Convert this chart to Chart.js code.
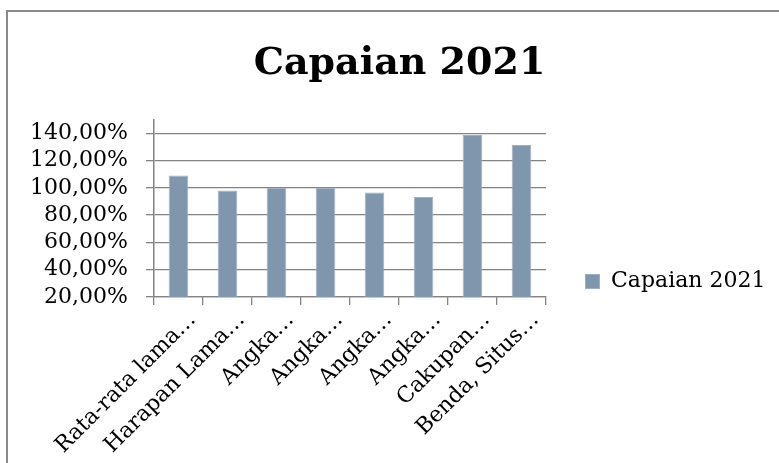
<!DOCTYPE html>
<html>
<head>
<meta charset="utf-8">
<script src="https://cdn.jsdelivr.net/npm/chart.js@4"></script>
<style>
  html, body { margin: 0; padding: 0; background: #fff; overflow: hidden; }
  body { width: 779px; height: 463px; position: relative; }
  #frame { position: absolute; left: 6px; top: 10px; width: 900px; height: 600px;
           border-top: 2px solid #8a8a8a; border-left: 2px solid #8a8a8a; }
  #chart { position: absolute; left: 8px; top: 12px; }
</style>
</head>
<body>
<div id="frame"></div>
<canvas id="chart" width="800" height="539"></canvas>
<script>
// kategori (label terpotong seperti di gambar)
const kategori = [
  'Rata-rata lama…',
  'Harapan Lama…',
  'Angka…',
  'Angka…',
  'Angka…',
  'Angka…',
  'Cakupan…',
  'Benda, Situs…'
];
// capaian dalam persen
const capaian2021 = [109.1, 98.1, 100.0, 100.0, 96.6, 93.2, 138.8, 131.3];
const namaSeri = 'Capaian 2021';
const sumbuMin = 20;
const sumbuMax = 150;
const langkah = 20;

const serif = 'DejaVu Serif';
const abu = '#848484';

function persen(v) {
  return v.toFixed(2).replace('.', ',') + '%';
}

// legenda di kanan, digambar sendiri karena legenda bawaan dibatasi lebarnya
const legendaKanan = {
  id: 'legendaKanan',
  afterDraw(chart) {
    const ctx = chart.ctx;
    const ds = chart.data.datasets[0];
    const x = chart.chartArea.right + 39;
    const y = chart.height / 2;
    ctx.save();
    ctx.fillStyle = ds.backgroundColor;
    ctx.fillRect(x, y - 7.5, 15, 15);
    ctx.strokeStyle = ds.borderColor;
    ctx.lineWidth = 1;
    ctx.strokeRect(x + 0.5, y - 7, 14, 14);
    ctx.fillStyle = '#000';
    ctx.font = '22px "' + serif + '"';
    ctx.textBaseline = 'middle';
    ctx.textAlign = 'left';
    ctx.fillText(ds.label, x + 15 + 11, y);
    ctx.restore();
  }
};

new Chart(document.getElementById('chart'), {
  type: 'bar',
  data: {
    labels: kategori,
    datasets: [{
      label: namaSeri,
      data: capaian2021,
      backgroundColor: '#8096ad',
      borderColor: '#9db0c3',
      borderWidth: 1,
      barPercentage: 0.8,
      categoryPercentage: 0.5
    }]
  },
  plugins: [legendaKanan],
  options: {
    responsive: false,
    animation: false,
    layout: { padding: { left: 17, right: 34, top: 0, bottom: 0 } },
    plugins: {
      title: {
        display: true,
        text: 'Capaian 2021',
        color: '#000',
        font: { family: serif, size: 38, weight: 'bold' },
        padding: { top: 29, bottom: 33 }
      },
      legend: { display: false },
      tooltip: { enabled: false }
    },
    scales: {
      x: {
        grid: { display: true, drawOnChartArea: false, color: abu, lineWidth: 1.3, tickLength: 8 },
        border: { color: abu, width: 1.3 },
        ticks: {
          color: '#000',
          font: { family: serif, size: 22 },
          minRotation: 45,
          maxRotation: 45,
          autoSkip: false,
          labelOffset: 14,
          padding: 2
        },
        afterFit: s => { s.height = 254; }
      },
      y: {
        min: sumbuMin,
        max: sumbuMax,
        grid: { color: abu, lineWidth: 1.3, tickLength: 8 },
        border: { color: abu, width: 1.5 },
        ticks: {
          stepSize: langkah,
          includeBounds: false,
          autoSkip: false,
          color: '#000',
          padding: 18,
          font: { family: serif, size: 22 },
          callback: v => persen(v)
        },
        afterBuildTicks: s => { s.ticks = s.ticks.filter(t => t.value <= 141); },
        afterFit: s => { s.width = 129; }
      },
      // sumbu kosong di kanan, hanya untuk memberi ruang legenda
      ruangLegenda: {
        type: 'linear',
        position: 'right',
        grid: { display: false },
        border: { display: false },
        ticks: { display: false },
        afterFit: s => { s.width = 228; }
      }
    }
  }
});
</script>
</body>
</html>
